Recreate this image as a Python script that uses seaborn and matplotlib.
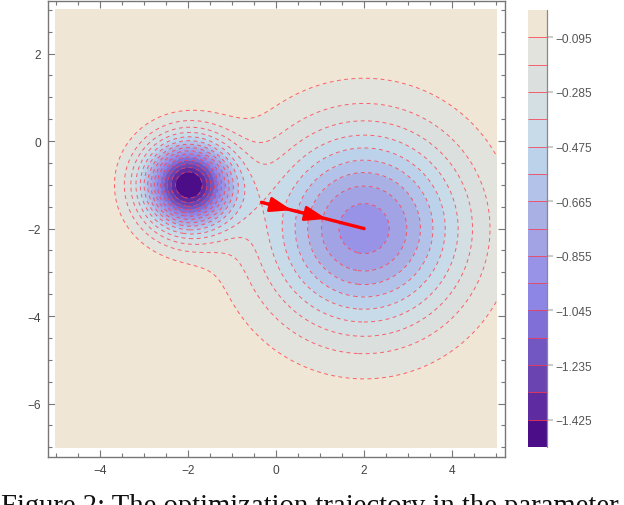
import numpy as np
import matplotlib
matplotlib.use("Agg")
import matplotlib.pyplot as plt
import seaborn as sns
from matplotlib.colors import ListedColormap, BoundaryNorm

# ---- values ----
well_cx = [-2.0, 2.0]
well_cy = [-1.0, -2.0]
well_depth = [1.52, 0.91]
well_spread = [1.0, 5.22]

x_range = [-5.0, 5.0]
y_range = [-7.0, 3.0]

levels = [-1.52, -1.425, -1.33, -1.235, -1.14, -1.045, -0.95, -0.855, -0.76,
          -0.665, -0.57, -0.475, -0.38, -0.285, -0.19, -0.095, 0.0]
band_colors = ["#4b0d88", "#5e2ca0", "#6a45b2", "#7257c3", "#7f6fd6", "#8d86e5",
               "#9893e6", "#a2a3e5", "#a9b0e4", "#b3c2e8", "#bcd2ea", "#c8dbe8",
               "#d3dfe3", "#dbe0df", "#e3e3dd", "#efe6d5"]
cbar_ticks = [-1.425, -1.235, -1.045, -0.855, -0.665, -0.475, -0.285, -0.095]
cbar_labels = ["\u22121.425", "\u22121.235", "\u22121.045", "\u22120.855",
               "\u22120.665", "\u22120.475", "\u22120.285", "\u22120.095"]
x_ticks = [-4, -2, 0, 2, 4]
x_labels = ["\u22124", "\u22122", "0", "2", "4"]
y_ticks = [-6, -4, -2, 0, 2]
y_labels = ["\u22126", "\u22124", "\u22122", "0", "2"]

traj_x = [-0.33, 0.36, 1.15, 2.0]
traj_y = [-1.40, -1.58, -1.78, -2.0]

caption = "Figure 2: The optimization trajectory in the parameter"

# ---- figure ----
sns.set_theme(style="white")
plt.rcParams["font.family"] = ["Liberation Sans", "DejaVu Sans"]

W, H = 624, 506
fig = plt.figure(figsize=(W / 100, H / 100), dpi=100)
ax = fig.add_axes([48 / W, (H - 458) / H, 457 / W, 456 / H])
cax = fig.add_axes([528 / W, (H - 448) / H, 19 / W, 437 / H])

xs = np.linspace(x_range[0], x_range[1], 500)
ys = np.linspace(y_range[0], y_range[1], 500)
X, Y = np.meshgrid(xs, ys)
Z = np.zeros_like(X)
for cx, cy, d, s in zip(well_cx, well_cy, well_depth, well_spread):
    Z -= d * np.exp(-((X - cx) ** 2 + (Y - cy) ** 2) / s)
Zc = np.clip(Z, levels[0] + 1e-4, levels[-1] - 1e-4)

cmap = ListedColormap(band_colors)
norm = BoundaryNorm(levels, cmap.N)
cf = ax.contourf(X, Y, Zc, levels=levels, cmap=cmap, norm=norm)
cl = ax.contour(X, Y, Z, levels=levels[1:-1], colors="#ff3a4a",
                linewidths=0.7, linestyles=[(0, (4, 3.5))], alpha=0.78)

# trajectory
sns.lineplot(x=traj_x, y=traj_y, ax=ax, color="#ff0000", linewidth=2.4,
             sort=False, estimator=None, legend=False)
for i in range(2):
    ax.annotate("", xy=(traj_x[i + 1], traj_y[i + 1]), xytext=(traj_x[i], traj_y[i]),
                arrowprops=dict(arrowstyle="-|>,head_length=1.1,head_width=0.38",
                                color="#ff0000", lw=2.0, mutation_scale=12,
                                shrinkA=0, shrinkB=0))

ax.set_xlim(-5.18, 5.2)
ax.set_ylim(-7.22, 3.2)
ax.set_xticks(x_ticks)
ax.set_xticklabels(x_labels)
ax.set_yticks(y_ticks)
ax.set_yticklabels(y_labels)
ax.set_xticks(np.arange(-5, 5.01, 0.5), minor=True)
ax.set_yticks(np.arange(-7, 3.01, 0.5), minor=True)
ax.tick_params(which="both", direction="in", top=True, right=True, bottom=True, left=True,
               color="#777777", width=0.8)
ax.tick_params(which="major", length=5, labelsize=8.6, labelcolor="#444444", pad=5)
ax.tick_params(which="minor", length=3)
for sp in ax.spines.values():
    sp.set_color("#777777")
    sp.set_linewidth(1.0)
ax.set_xlabel("")
ax.set_ylabel("")

cb = fig.colorbar(cf, cax=cax, ticks=cbar_ticks)
cb.add_lines(cl)
cb.set_ticklabels(cbar_labels)
cb.outline.set_visible(False)
cax.plot([1, 1], [0, 1], transform=cax.transAxes, color="#888888", lw=0.9, clip_on=False)
cax.tick_params(which="major", direction="out", length=4, width=1.5, color="#cccccc",
                labelsize=8.6, labelcolor="#555555", pad=2, right=True)
cax.tick_params(which="minor", length=0)

fig.text(0.002, -0.0158, caption, fontfamily=["Liberation Serif", "DejaVu Serif"],
         fontsize=20.6, va="baseline", ha="left", color="#111111")

fig.savefig("out.png", dpi=100)
